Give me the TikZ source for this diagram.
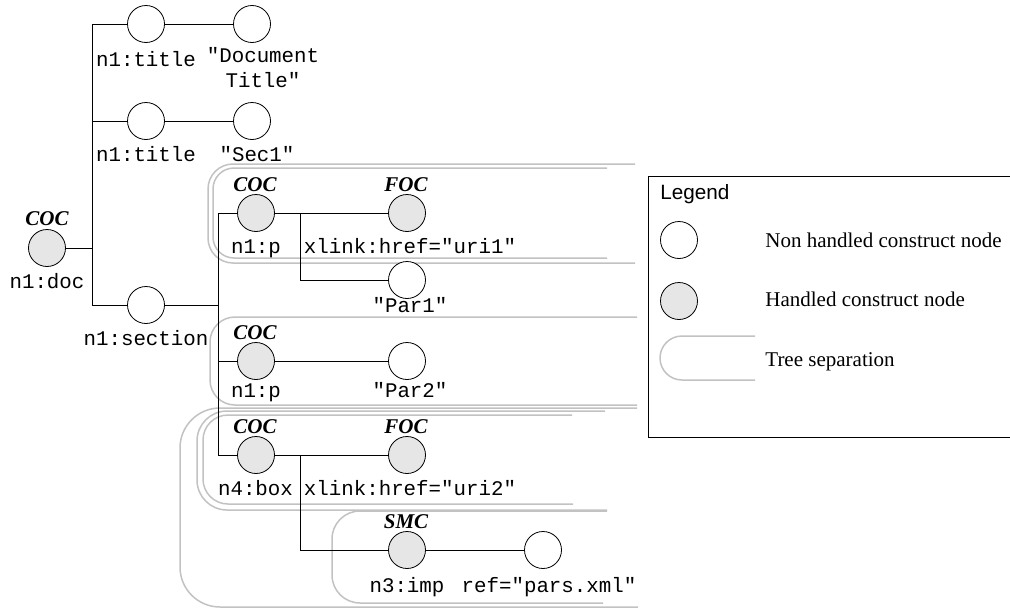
\documentclass[tikz,border=0pt]{standalone}
\usepackage{fontspec}
\setmainfont{Liberation Serif}
\setsansfont{Liberation Sans}
\setmonofont{Liberation Mono}
\definecolor{hgray}{HTML}{E6E6E6}
\definecolor{sepgray}{HTML}{C2C2C2}
\tikzset{
  nnode/.style={circle,draw,line width=0.8pt,fill=white,minimum size=37pt,inner sep=0pt},
  hnode/.style={nnode,fill=hgray},
  tag/.style={anchor=base,inner sep=0pt,font=\fontsize{21}{24}\selectfont\bfseries\itshape},
  lbl/.style={anchor=base,inner sep=0pt,font=\fontsize{20.8}{24.3}\selectfont\ttfamily},
  lgd/.style={anchor=base west,inner sep=0pt,font=\fontsize{21}{25}\selectfont},
  treesep/.style={draw=sepgray,line width=1.5pt,rounded corners=#1},
  treesep/.default=25pt
}
\begin{document}
\begin{tikzpicture}[x=1pt,y=-1pt,line width=0.8pt]
    \useasboundingbox (0,0) rectangle (1010,608);
    %Tree separations
    \draw[treesep] (635,164) -- (208,164) -- (208,263) -- (635,263);
    \draw[treesep=21pt] (607,168) -- (213,168) -- (213,258) -- (607,258);
    \draw[treesep] (637,317) -- (210,317) -- (210,405) -- (637,405);
    \draw[treesep=40pt] (637,408) -- (180,408) -- (180,607) -- (638,607);
    \draw[treesep=30pt] (605,411) -- (197,411) -- (197,510) -- (607,510);
    \draw[treesep] (572,415) -- (203,415) -- (203,504) -- (573,504);
    \draw[treesep=28pt] (607,511) -- (332,511) -- (332,603) -- (603,603);
    %Root
    \node[hnode] (doc) at (47,248) {};
    \node[tag] (docT) at (47,225) {COC};
    \node[lbl] (docL) at (47,288) {n1:doc};
    \coordinate (j1) at (92,248);
    \draw (doc) -- (j1);
    %Titles
    \node[nnode] (ti1) at (146,24) {};
    \node[nnode] (tiv1) at (252,24) {};
    \node[lbl] (ti1L) at (146,66) {n1:title};
    \node[lbl,align=center] (tiv1L) at (263,87) {"Document\\Title"};
    \node[nnode] (ti2) at (146,121) {};
    \node[nnode] (tiv2) at (252,121) {};
    \node[lbl] (ti2L) at (146,161.7) {n1:title};
    \node[lbl] (tiv2L) at (257,161.7) {"Sec1"};
    \draw (ti1) -| (j1);
    \draw (ti2) -| (j1);
    \draw (ti1) -- (tiv1);
    \draw (ti2) -- (tiv2);
    %Section
    \node[nnode] (sec) at (146,305) {};
    \node[lbl] (secL) at (146,345) {n1:section};
    \coordinate (j2) at (218,305);
    \draw (sec) -| (j1);
    \draw (sec) -- (j2);
    %First paragraph
    \node[hnode] (p1) at (256,213) {};
    \node[tag] (p1T) at (255,191) {COC};
    \node[lbl] (p1L) at (256,253) {n1:p};
    \node[hnode] (href1) at (407,213) {};
    \node[tag] (href1T) at (406,191) {FOC};
    \node[lbl] (href1L) at (410,253) {xlink:href="uri1"};
    \node[nnode] (par1) at (407,280) {};
    \node[lbl] (par1L) at (410,312) {"Par1"};
    \coordinate (j3) at (300,213);
    \draw (p1) -| (j2);
    \draw (p1) -- (href1);
    \draw (par1) -| (j3);
    %Second paragraph
    \node[hnode] (p2) at (256,361) {};
    \node[tag] (p2T) at (255,339) {COC};
    \node[lbl] (p2L) at (256,397) {n1:p};
    \node[nnode] (par2) at (407,361) {};
    \node[lbl] (par2L) at (410,397) {"Par2"};
    \draw (p2) -| (j2);
    \draw (p2) -- (par2);
    %Box
    \node[hnode] (box) at (256,455) {};
    \node[tag] (boxT) at (255,433) {COC};
    \node[lbl] (boxL) at (255.5,495) {n4:box};
    \node[hnode] (href2) at (407,455) {};
    \node[tag] (href2T) at (406,433) {FOC};
    \node[lbl] (href2L) at (410,495) {xlink:href="uri2"};
    \coordinate (j4) at (300,455);
    \draw (box) -| (j2);
    \draw (box) -- (href2);
    %Import
    \node[hnode] (imp) at (407,550) {};
    \node[tag] (impT) at (406,528) {SMC};
    \node[lbl] (impL) at (407,592) {n3:imp};
    \node[nnode] (ref) at (543,550) {};
    \node[lbl] (refL) at (549,592) {ref="pars.xml"};
    \draw (imp) -| (j4);
    \draw (imp) -- (ref);
    %Legend
    \draw (1015,176) -- (648,176) -- (648,437) -- (1015,437);
    \node[lgd,font=\fontsize{20.7}{25}\selectfont\sffamily] (lgdT) at (660,199) {Legend};
    \node[nnode] (lgdN) at (679,240) {};
    \node[lgd] (lgdNL) at (765,247.7) {Non handled construct node};
    \node[hnode] (lgdH) at (679,301) {};
    \node[lgd] (lgdHL) at (765,306.7) {Handled construct node};
    \draw[treesep=22pt] (755,336) -- (660,336) -- (660,380) -- (755,380);
    \node[lgd] (lgdSL) at (765,366.7) {Tree separation};
\end{tikzpicture}
\end{document}
